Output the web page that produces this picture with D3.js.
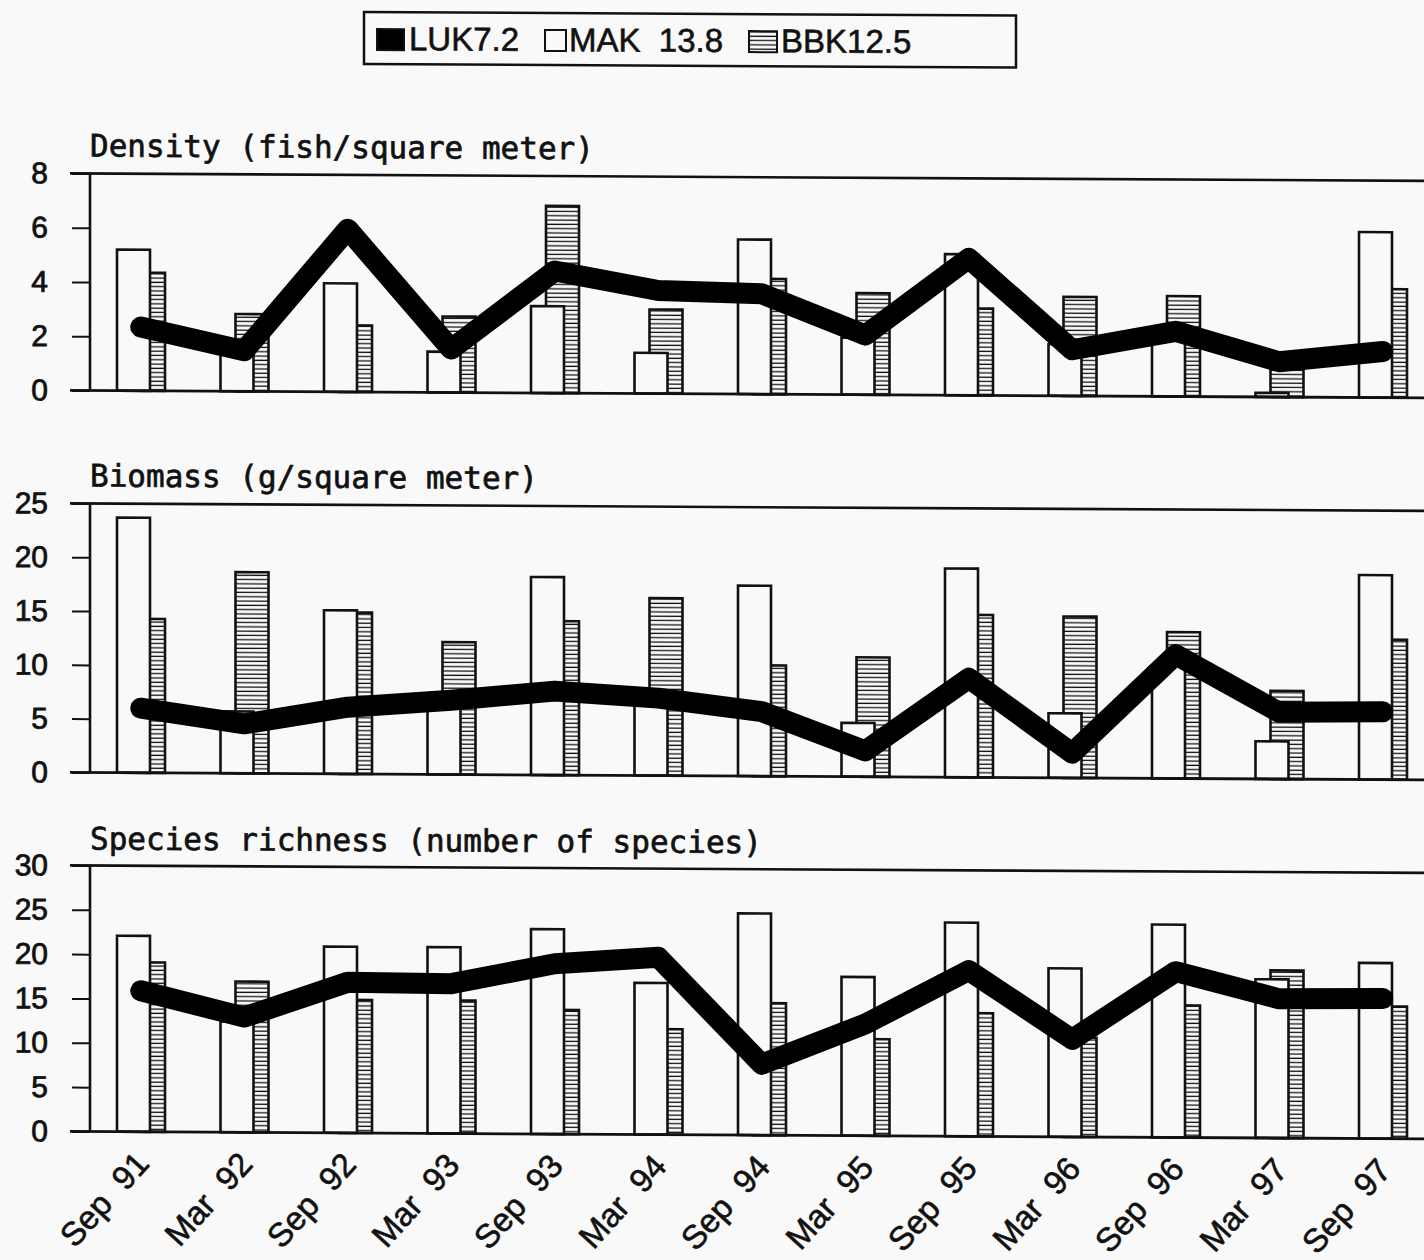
<!DOCTYPE html>
<html><head><meta charset="utf-8">
<script src="https://cdn.jsdelivr.net/npm/d3@7"></script>
<style>
html,body{margin:0;padding:0;background:#f9f9f9;}
svg{display:block;}
</style></head>
<body>
<svg id="chart" width="1424" height="1260"></svg>
<script>
// ---------- data ----------
const categories = ["Sep 91","Mar 92","Sep 92","Mar 93","Sep 93","Mar 94","Sep 94","Mar 95","Sep 95","Mar 96","Sep 96","Mar 97","Sep 97"];
const seriesNames = ["LUK7.2", "MAK  13.8", "BBK12.5"];

const densityLUK = [2.35, 1.5, 6.0, 1.6, 4.5, 3.8, 3.7, 2.2, 5.05, 1.7, 2.4, 1.3, 1.7];
const densityMAK = [5.2, 1.4, 4.0, 1.5, 3.2, 1.5, 5.7, 2.1, 5.2, 1.9, 2.1, 0.15, 6.1];
const densityBBK = [4.35, 2.85, 2.45, 2.8, 6.9, 3.1, 4.25, 3.75, 3.2, 3.65, 3.7, 1.1, 4.0];

const biomassLUK = [6.0, 4.6, 6.2, 6.9, 7.8, 7.2, 6.0, 2.4, 9.2, 2.3, 11.5, 6.2, 6.3];
const biomassMAK = [23.7, 5.75, 15.2, 7.4, 18.4, 6.7, 17.7, 5.0, 19.4, 6.0, 10.5, 3.5, 19.0];
const biomassBBK = [14.3, 18.7, 15.0, 12.3, 14.3, 16.5, 10.3, 11.1, 15.1, 15.0, 13.6, 8.2, 13.0];

const speciesLUK = [15.9, 13.0, 17.0, 16.9, 19.2, 20.0, 8.0, 12.6, 18.7, 11.0, 18.7, 15.7, 15.8];
const speciesMAK = [22.1, 12.5, 21.0, 21.0, 23.1, 17.1, 25.0, 17.9, 24.1, 19.0, 24.0, 17.9, 19.8];
const speciesBBK = [19.1, 17.0, 15.0, 15.0, 14.0, 11.9, 14.9, 10.9, 13.9, 11.2, 14.9, 18.9, 14.9];

const densityTicks = [0, 2, 4, 6, 8];
const biomassTicks = [0, 5, 10, 15, 20, 25];
const speciesTicks = [0, 5, 10, 15, 20, 25, 30];

const panelTitles = ["Density (fish/square meter)", "Biomass (g/square meter)", "Species richness (number of species)"];

// ---------- layout ----------
const W = 1424, H = 1260;
const INK = "#111";
const svg = d3.select("#chart");
const defs = svg.append("defs");
const hatch = defs.append("pattern").attr("id","hatch").attr("patternUnits","userSpaceOnUse")
  .attr("width", 8).attr("height", 4.3);
hatch.append("rect").attr("width",8).attr("height",4.3).attr("fill","#f9f9f9");
hatch.append("line").attr("x1",0).attr("x2",8).attr("y1",2).attr("y2",2)
  .attr("stroke",INK).attr("stroke-width",1.3);

const root = svg.append("g").attr("transform","skewY(0.315)");

const x = d3.scaleBand().domain(categories).range([90, 90 + 13*103.5]).padding(0);
const bw = 33;
const offMAK = 27, offBBK = 42;

const panels = [
  {title: panelTitles[0], luk: densityLUK, mak: densityMAK, bbk: densityBBK, ticks: densityTicks, top: 173, bottom: 390, titleY: 156},
  {title: panelTitles[1], luk: biomassLUK, mak: biomassMAK, bbk: biomassBBK, ticks: biomassTicks, top: 503, bottom: 772, titleY: 486},
  {title: panelTitles[2], luk: speciesLUK, mak: speciesMAK, bbk: speciesBBK, ticks: speciesTicks, top: 865, bottom: 1131, titleY: 849}
];

function heavy(sel, w) {
  return sel.attr("fill", INK).attr("stroke", INK).attr("stroke-width", w).attr("paint-order","stroke");
}

panels.forEach(p => {
  const g = root.append("g");
  const maxV = d3.max(p.ticks);
  const y = d3.scaleLinear().domain([0, maxV]).range([p.bottom, p.top]);

  // title
  heavy(g.append("text").attr("x", 90).attr("y", p.titleY)
    .attr("font-family","'DejaVu Sans Mono', monospace").attr("font-size",31)
    .text(p.title), 0.7);

  // hatched bars (behind)
  g.selectAll(".bbk").data(categories).join("rect")
    .attr("x", c => x(c) + offBBK).attr("width", bw)
    .attr("y", (c,i) => y(p.bbk[i])).attr("height", (c,i) => y(0) - y(p.bbk[i]))
    .attr("fill","url(#hatch)").attr("stroke",INK).attr("stroke-width",2.6);
  // white bars
  g.selectAll(".mak").data(categories).join("rect")
    .attr("x", c => x(c) + offMAK).attr("width", bw)
    .attr("y", (c,i) => y(p.mak[i])).attr("height", (c,i) => y(0) - y(p.mak[i]))
    .attr("fill","#f9f9f9").attr("stroke",INK).attr("stroke-width",2.6);

  // axis
  const axis = d3.axisLeft(y).tickValues(p.ticks).tickSize(18).tickPadding(24).tickFormat(d3.format("d"));
  const ag = g.append("g").attr("transform","translate(90,0)").call(axis);
  ag.select(".domain").remove();
  ag.selectAll(".tick line").attr("stroke",INK).attr("stroke-width",2);
  heavy(ag.selectAll(".tick text").attr("font-family","'Liberation Sans', Arial, sans-serif")
    .attr("font-size",30), 0.8);

  g.append("line").attr("x1",90).attr("x2",90).attr("y1",y(maxV)).attr("y2",y(0))
    .attr("stroke",INK).attr("stroke-width",2.6);
  g.append("line").attr("x1",70).attr("x2",W).attr("y1",y(maxV)).attr("y2",y(maxV))
    .attr("stroke",INK).attr("stroke-width",2.6);
  g.append("line").attr("x1",70).attr("x2",W).attr("y1",y(0)).attr("y2",y(0))
    .attr("stroke",INK).attr("stroke-width",2.8);

  // thick line
  const line = d3.line().x(c => x(c) + x.bandwidth()/2 - 1).y((c,i) => y(p.luk[i]));
  g.append("path").datum(categories).attr("d", line)
    .attr("fill","none").attr("stroke","#000").attr("stroke-width",21)
    .attr("stroke-linejoin","round").attr("stroke-linecap","round");
});

// x labels
heavy(root.append("g").selectAll("text").data(categories).join("text")
  .attr("transform", c => `translate(${x(c) + x.bandwidth()/2 + 9},1164) rotate(-48)`)
  .attr("text-anchor","end")
  .attr("font-family","'Liberation Sans', Arial, sans-serif").attr("font-size",33)
  .style("white-space","pre")
  .text(c => c.replace(" ", "  ")), 0.6);

// legend
const lg = root.append("g");
lg.append("rect").attr("x",364).attr("y",10).attr("width",652).attr("height",52)
  .attr("fill","none").attr("stroke",INK).attr("stroke-width",2.5);
const legendItems = [
  {name: seriesNames[0], sx: 377, sw: 27, fill: "#000", tx: 409},
  {name: seriesNames[1], sx: 545, sw: 21, fill: "#f9f9f9", tx: 569},
  {name: seriesNames[2], sx: 749, sw: 28, fill: "url(#hatch)", tx: 781}
];
legendItems.forEach(it => {
  lg.append("rect").attr("x", it.sx).attr("y", 27).attr("width", it.sw).attr("height", 21)
    .attr("fill", it.fill).attr("stroke",INK).attr("stroke-width",2);
  heavy(lg.append("text").attr("x", it.tx).attr("y", 48)
    .attr("font-family","'Liberation Sans', Arial, sans-serif").attr("font-size",33)
    .style("white-space","pre").text(it.name), 0.6);
});
</script>
</body></html>
